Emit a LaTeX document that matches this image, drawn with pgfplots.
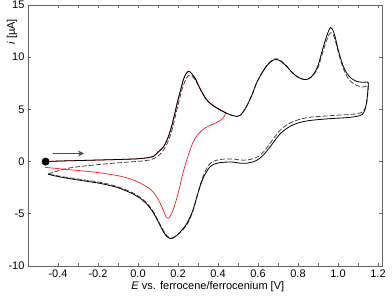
\documentclass[border=0pt]{standalone}
\usepackage{fontspec}
\setmainfont{Liberation Sans}
\usepackage{pgfplots}
\pgfplotsset{compat=1.18}
\usetikzlibrary{arrows.meta}
\definecolor{axgray}{RGB}{100,100,100}
\definecolor{cvred}{RGB}{245,40,40}
\definecolor{dashgray}{RGB}{60,60,60}
\begin{document}
\begin{tikzpicture}
\useasboundingbox (-28pt,-36pt) rectangle (364pt,266pt);
\begin{axis}[
  scale only axis,
  width=354pt, height=261pt,
  xmin=-0.55, xmax=1.22,
  ymin=-10, ymax=15,
  xtick={-0.4,-0.2,0,0.2,0.4,0.6,0.8,1.0,1.2},
  minor x tick num=1,
  ytick={-10,-5,0,5,10,15},
  tick align=inside,
  major tick length=3pt,
  minor tick length=3pt,
  axis line style={axgray, line width=0.8pt},
  every tick/.style={axgray, line width=0.6pt},
  /pgf/number format/assume math mode=true,
  xticklabel style={/pgf/number format/fixed, /pgf/number format/fixed zerofill, /pgf/number format/precision=1},
  tick label style={font=\fontsize{11}{13}\selectfont},
  xlabel={\textit{E} vs. ferrocene/ferrocenium [V]},
  ylabel={\textit{i} [µA]},
  xlabel style={font=\fontsize{11}{13}\selectfont, at={(rel axis cs:0.508,0)}, anchor=center, yshift=-21pt},
  ylabel style={font=\fontsize{11}{13}\selectfont, at={(rel axis cs:-0.045,0.897)}, anchor=center, rotate=0},
  clip=false,
]
% red first scan forward (under black)
\addplot[cvred, line width=0.75pt, smooth, tension=0.5] coordinates {
(-0.462,0.0)(-0.4,0.05)(-0.3,0.1)(-0.2,0.15)(-0.1,0.2)(0.0,0.27)(0.05,0.38)(0.077,0.5)(0.10,0.9)(0.127,1.4)(0.15,2.3)(0.168,3.37)(0.185,4.7)(0.2,5.93)(0.215,7.0)(0.227,7.86)(0.24,8.4)(0.252,8.65)(0.265,8.5)(0.285,8.0)(0.3,7.4)(0.318,6.7)(0.34,6.0)(0.36,5.6)(0.385,5.25)(0.41,4.97)(0.438,4.7)
};
% red reverse
\addplot[cvred, line width=0.75pt, smooth, tension=0.5] coordinates {
(0.438,4.7)(0.432,4.35)(0.415,4.0)(0.393,3.75)(0.37,3.55)(0.343,3.3)(0.32,3.0)(0.3,2.6)(0.285,2.2)(0.272,1.7)(0.26,1.1)(0.248,0.4)(0.235,-0.4)(0.222,-1.3)(0.21,-2.3)(0.2,-3.1)(0.188,-3.9)(0.177,-4.55)(0.165,-5.1)(0.152,-5.42)(0.14,-5.3)(0.127,-4.7)(0.11,-3.95)(0.093,-3.35)(0.075,-2.9)(0.055,-2.55)(0.03,-2.25)(0.0,-1.95)(-0.04,-1.65)(-0.1,-1.35)(-0.2,-1.05)(-0.3,-0.85)(-0.373,-0.72)(-0.465,-0.55)
};
% dashed second cycle forward
\addplot[dashgray, line width=0.75pt, dash pattern=on 5pt off 2pt, smooth, tension=0.5] coordinates {
(-0.45,-1.2)(-0.42,-1.0)(-0.38,-0.78)(-0.34,-0.6)(-0.28,-0.45)(-0.215,-0.32)(-0.15,-0.2)(-0.1,-0.12)(-0.05,-0.05)(0.0,0.02)(0.04,0.1)(0.07,0.22)(0.095,0.45)(0.12,0.9)(0.14,1.5)(0.16,2.4)(0.175,3.4)(0.19,4.6)(0.205,5.8)(0.22,6.9)(0.235,7.7)(0.25,8.2)(0.26,8.3)(0.272,8.15)(0.29,7.7)(0.31,7.0)(0.33,6.3)(0.35,5.8)(0.375,5.35)(0.4,5.05)(0.43,4.75)(0.452,4.55)(0.475,4.4)(0.493,4.33)(0.515,4.5)(0.543,5.29)(0.57,6.4)(0.593,7.54)(0.62,8.5)(0.645,9.25)(0.66,9.55)(0.68,9.82)(0.695,9.85)(0.715,9.65)(0.743,9.15)(0.77,8.55)(0.793,8.17)(0.815,7.95)(0.835,7.86)(0.855,7.95)(0.877,8.3)(0.9,9.0)(0.918,10.1)(0.93,10.85)(0.943,11.6)(0.955,12.15)(0.965,12.35)(0.975,12.2)(0.988,11.5)(1.0,10.6)(1.013,9.7)(1.028,8.85)(1.045,8.15)(1.065,7.65)(1.093,7.3)(1.12,7.15)(1.14,7.2)(1.152,7.3)
};
% dashed reverse
\addplot[dashgray, line width=0.75pt, dash pattern=on 5pt off 2pt, smooth, tension=0.5] coordinates {
(1.152,7.3)(1.148,6.2)(1.14,5.3)(1.125,4.8)(1.1,4.6)(1.05,4.5)(1.0,4.45)(0.95,4.38)(0.86,4.25)(0.8,4.0)(0.76,3.7)(0.735,3.4)(0.71,3.0)(0.685,2.4)(0.66,1.75)(0.635,1.1)(0.61,0.6)(0.58,0.3)(0.543,0.15)(0.51,0.15)(0.477,0.25)(0.44,0.25)(0.41,0.2)(0.38,0.05)(0.36,-0.2)(0.345,-0.6)(0.33,-1.2)(0.315,-2.0)(0.3,-3.0)(0.285,-4.1)(0.27,-5.0)(0.252,-5.8)(0.235,-6.3)(0.215,-6.7)(0.195,-7.05)(0.175,-7.3)(0.163,-7.33)(0.148,-7.15)(0.13,-6.7)(0.11,-6.0)(0.08,-4.9)(0.05,-4.1)(0.02,-3.55)(-0.02,-3.05)(-0.06,-2.7)(-0.1,-2.42)(-0.15,-2.15)(-0.2,-1.95)(-0.28,-1.72)(-0.36,-1.5)(-0.42,-1.3)(-0.45,-1.2)
};
% solid first cycle forward
\addplot[black, line width=0.8pt, smooth, tension=0.5] coordinates {
(-0.462,0.0)(-0.4,0.05)(-0.3,0.1)(-0.2,0.15)(-0.1,0.2)(0.0,0.27)(0.05,0.38)(0.077,0.5)(0.10,0.9)(0.127,1.4)(0.15,2.3)(0.168,3.37)(0.185,4.7)(0.2,5.93)(0.215,7.0)(0.227,7.86)(0.24,8.4)(0.252,8.65)(0.265,8.5)(0.285,8.0)(0.3,7.4)(0.318,6.7)(0.34,6.0)(0.36,5.6)(0.385,5.25)(0.41,4.97)(0.43,4.75)(0.452,4.55)(0.475,4.4)(0.493,4.33)(0.515,4.5)(0.543,5.29)(0.57,6.4)(0.593,7.54)(0.62,8.5)(0.645,9.2)(0.66,9.5)(0.68,9.75)(0.693,9.78)(0.715,9.6)(0.743,9.13)(0.77,8.55)(0.793,8.17)(0.815,7.95)(0.835,7.86)(0.855,7.95)(0.877,8.34)(0.9,9.2)(0.918,10.42)(0.93,11.2)(0.943,12.0)(0.955,12.6)(0.963,12.83)(0.972,12.7)(0.985,12.0)(0.997,11.0)(1.01,10.1)(1.025,9.2)(1.043,8.5)(1.065,8.0)(1.093,7.69)(1.12,7.6)(1.145,7.62)(1.152,7.55)
};
% solid reverse
\addplot[black, line width=0.8pt, smooth, tension=0.5] coordinates {
(1.152,7.55)(1.15,7.0)(1.145,6.0)(1.135,4.97)(1.12,4.5)(1.093,4.33)(1.05,4.22)(1.01,4.17)(0.95,4.1)(0.86,3.94)(0.8,3.7)(0.76,3.37)(0.735,3.05)(0.71,2.65)(0.685,2.05)(0.66,1.4)(0.635,0.8)(0.61,0.33)(0.58,0.0)(0.543,-0.15)(0.51,-0.15)(0.477,-0.05)(0.44,-0.05)(0.41,-0.1)(0.38,-0.25)(0.36,-0.5)(0.345,-0.9)(0.33,-1.4)(0.315,-2.1)(0.3,-3.0)(0.285,-4.0)(0.27,-4.9)(0.252,-5.65)(0.235,-6.2)(0.215,-6.65)(0.195,-7.05)(0.175,-7.32)(0.16,-7.37)(0.145,-7.2)(0.128,-6.75)(0.11,-6.1)(0.08,-5.0)(0.05,-4.2)(0.02,-3.65)(-0.02,-3.15)(-0.06,-2.8)(-0.1,-2.5)(-0.15,-2.25)(-0.2,-2.05)(-0.28,-1.82)(-0.36,-1.58)(-0.42,-1.35)(-0.45,-1.2)
};
% start point
\addplot[only marks, mark=*, mark size=3.7pt, black] coordinates {(-0.462,0.0)};
% scan direction arrow
\draw[black!70, line width=1.5pt, -{Stealth[length=6pt,width=6pt]}] (axis cs:-0.423,0.78) -- (axis cs:-0.27,0.78);
\end{axis}
\end{tikzpicture}
\end{document}
